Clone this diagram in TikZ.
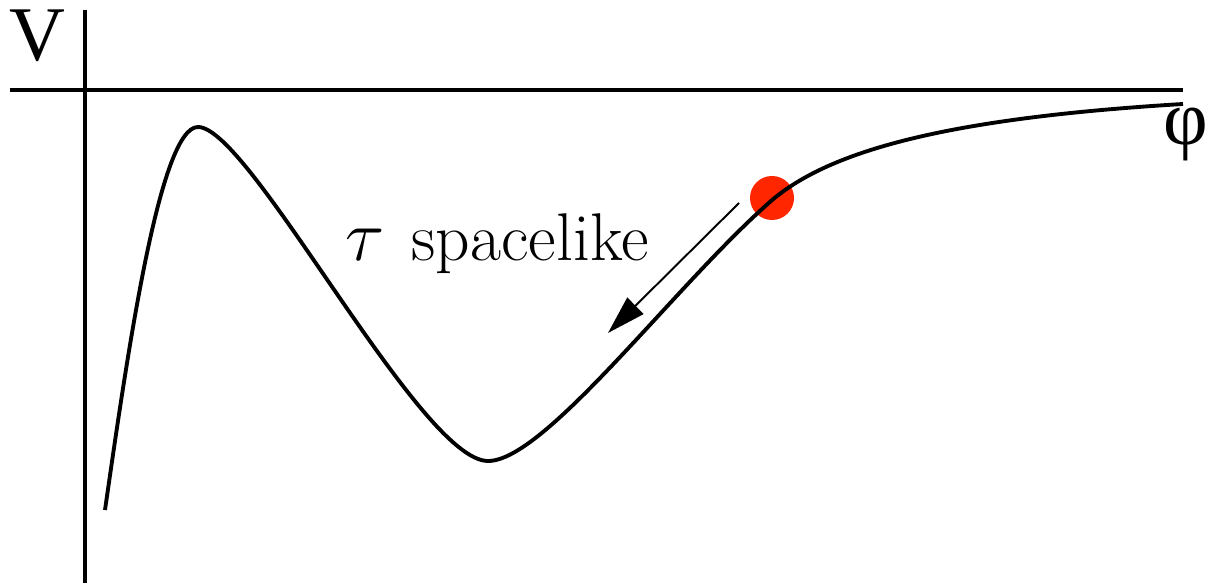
\documentclass[tikz,border=0pt]{standalone}
\usepackage{amsmath}
\usepackage{fontspec}
\usepackage{xcolor}
\usetikzlibrary{arrows.meta}
\newfontfamily\labelfont{Liberation Serif}
\definecolor{ballred}{RGB}{255,38,0}

\begin{document}
\begin{tikzpicture}[x=0.01cm,y=-0.01cm]
    \useasboundingbox (0,0) rectangle (1207,583);
    % axes
    \draw[line width=1.1pt] (85,10) coordinate (Vtop) -- (85,583) coordinate (Vbot);
    \draw[line width=1.1pt] (10,90) coordinate (Hleft) -- (1183,90) coordinate (Hright);
    \node[font=\labelfont\fontsize{22}{26}\selectfont] (V) at (37,36) {V};
    \node[font=\labelfont\fontsize{22}{26}\selectfont] (phi) at (1186,134) {φ};
    % ball and potential
    \fill[ballred] (772,198) coordinate (ball) circle (0.22cm);
    \draw[line width=1.1pt] (105,510) coordinate (P0)
        .. controls (128,350) and (160,127) .. (198,127) coordinate (Pmax)
        .. controls (250,127) and (420,461) .. (488,461) coordinate (Pmin)
        .. controls (545,461) and (675,285) .. (771,201) coordinate (Pball)
        .. controls (830,150) and (950,118) .. (1183,104) coordinate (Pend);
    % roll direction
    \coordinate (A) at (739,203);
    \coordinate (B) at (608,333);
    \draw[line width=0.55pt, -{Triangle[length=11pt,width=6.5pt]}] (A) -- (B);
    \node[anchor=base, font=\fontsize{19.2}{22}\selectfont] (lbl) at (497,261) {$\tau$\hspace{0.4em}spacelike};
\end{tikzpicture}
\end{document}
